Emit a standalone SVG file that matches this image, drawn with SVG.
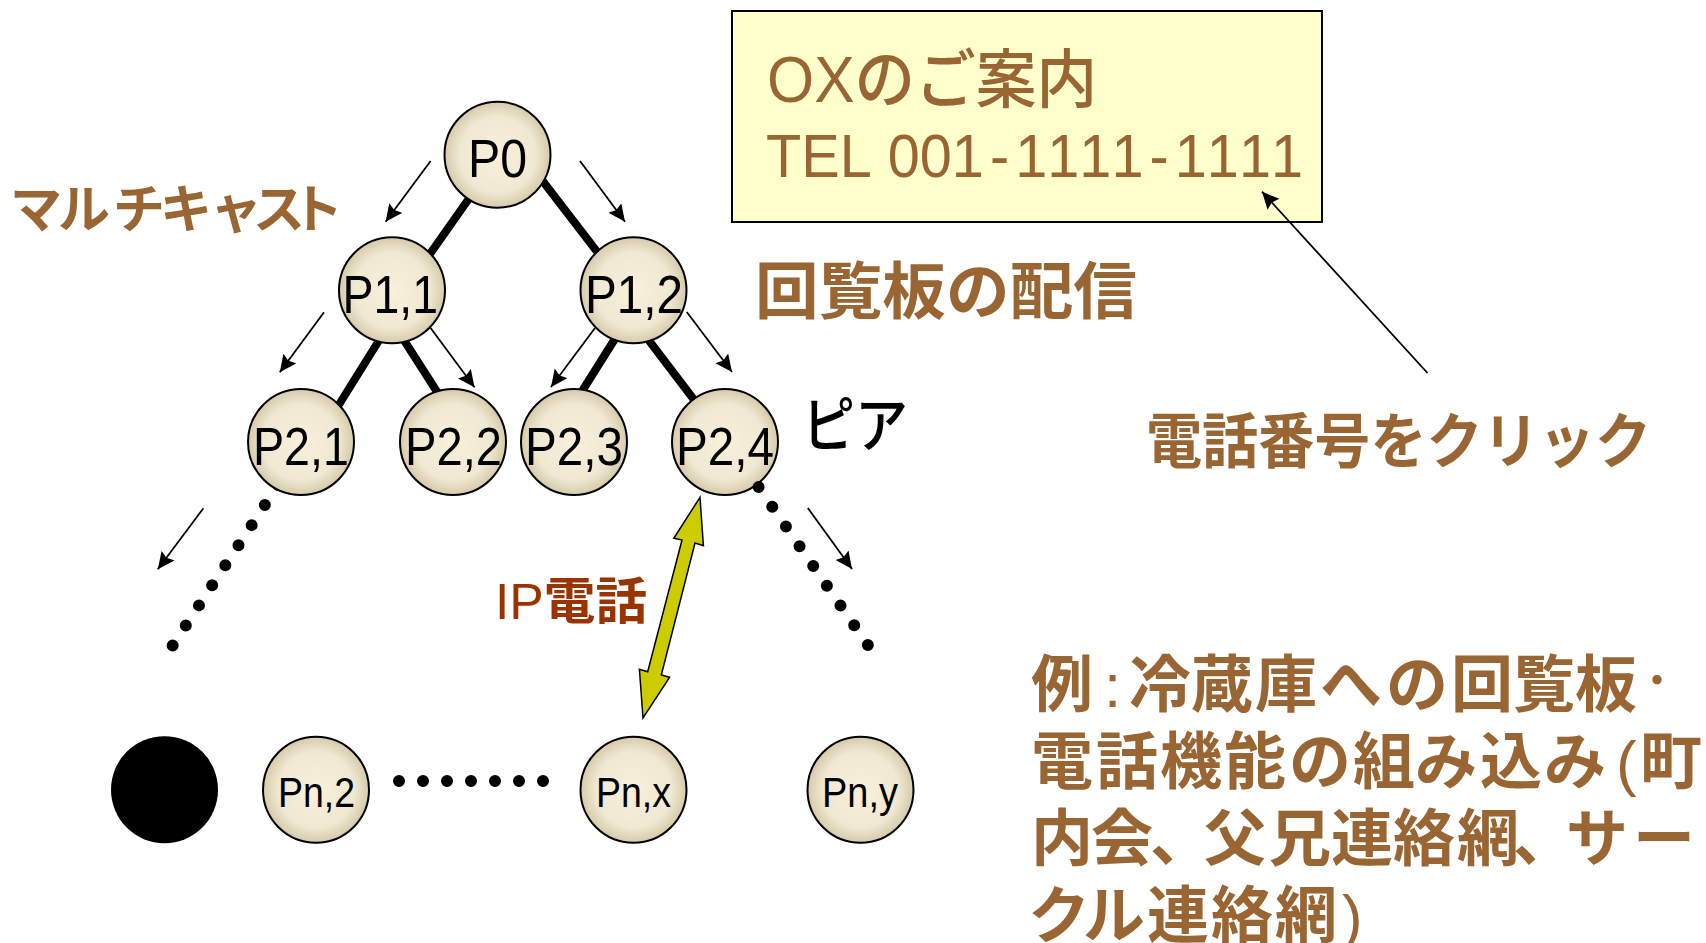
<svg xmlns="http://www.w3.org/2000/svg" width="1706" height="943" viewBox="0 0 1706 943">
<style>
text{font-family:"Liberation Sans","Noto Sans CJK JP",sans-serif}
.cj{font-family:"Noto Sans CJK JP","Liberation Sans",sans-serif;font-weight:700}
.la{font-family:"Liberation Sans",sans-serif;font-weight:400}
.b{fill:#996633}
.n{fill:url(#g);stroke:#000;stroke-width:2}
.l{font-size:54px;fill:#000}
.s{font-size:42px;fill:#000}
.t{stroke:#000;stroke-width:8;fill:none}
.a{stroke:#000;stroke-width:1.8;fill:none;marker-end:url(#m)}
.d{stroke:#000;stroke-width:12;stroke-linecap:round;stroke-dasharray:0 24;fill:none}
</style>
<defs>
<radialGradient id="g" cx="50%" cy="50%" r="50%"><stop offset="0" stop-color="#faf0dc"/><stop offset=".72" stop-color="#efe8d2"/><stop offset="1" stop-color="#d6caaa"/></radialGradient>
<marker id="m" markerUnits="userSpaceOnUse" markerWidth="20" markerHeight="18" refX="17" refY="8" orient="auto"><path d="M0,0L17,8L0,16L2.500,8Z" fill="#000"/></marker>
</defs>
<g id="connectors">
<path class="t" d="M475,190L425,261M535,171L605,262M383,334L335,411M400,334L441,398M618,334L579,396M644,334L698,405"/>
<path class="d" d="M278,485L171,648"/>
<path class="d" d="M399,781H545"/>
<path class="a" d="M430.600,161L385.600,221.700"/>
<path class="a" d="M580,161L625,221.700"/>
<path class="a" d="M324,312.300L279.800,372.300"/>
<path class="a" d="M430.600,328L474.500,387.300"/>
<path class="a" d="M595,328L551,387"/>
<path class="a" d="M686.800,312L732,372"/>
<path class="a" d="M203.400,508.300L157.800,569.300"/>
<path class="a" d="M807.800,508L852,569"/>
</g>
<g id="P0"><ellipse class="n" cx="497.500" cy="154.700" rx="53" ry="53"/><text class="l" x="468" y="177" textLength="59" lengthAdjust="spacingAndGlyphs">P0</text></g>
<g id="P1-1"><ellipse class="n" cx="392" cy="290.300" rx="53" ry="53"/><text class="l" x="342.500" y="312.500" textLength="95.500" lengthAdjust="spacingAndGlyphs">P1,1</text></g>
<g id="P1-2"><ellipse class="n" cx="633.500" cy="290.300" rx="53" ry="53"/><text class="l" x="585" y="312.500" textLength="98" lengthAdjust="spacingAndGlyphs">P1,2</text></g>
<g id="P2-1"><ellipse class="n" cx="301" cy="442" rx="53" ry="53"/><text class="l" x="253" y="464.500" textLength="96" lengthAdjust="spacingAndGlyphs">P2,1</text></g>
<g id="P2-2"><ellipse class="n" cx="453" cy="442" rx="53" ry="53"/><text class="l" x="405" y="464.500" textLength="97" lengthAdjust="spacingAndGlyphs">P2,2</text></g>
<g id="P2-3"><ellipse class="n" cx="574" cy="442" rx="53" ry="53"/><text class="l" x="525" y="464.500" textLength="98" lengthAdjust="spacingAndGlyphs">P2,3</text></g>
<g id="P2-4"><ellipse class="n" cx="725" cy="442" rx="53" ry="53"/><text class="l" x="676" y="464.500" textLength="98" lengthAdjust="spacingAndGlyphs">P2,4</text></g>
<path class="d" d="M758.600,487L870,648"/>
<g id="Pn-1"><ellipse cx="164.500" cy="789.700" rx="53.500" ry="53.500" fill="#000"/></g>
<g id="Pn-2"><ellipse class="n" cx="316" cy="789.700" rx="53" ry="53"/><text class="s" x="278" y="807" textLength="77" lengthAdjust="spacingAndGlyphs">Pn,2</text></g>
<g id="Pn-x"><ellipse class="n" cx="633.500" cy="789.700" rx="53" ry="53"/><text class="s" x="596" y="807" textLength="75" lengthAdjust="spacingAndGlyphs">Pn,x</text></g>
<g id="Pn-y"><ellipse class="n" cx="860.500" cy="789.700" rx="53" ry="53"/><text class="s" x="822" y="807" textLength="76" lengthAdjust="spacingAndGlyphs">Pn,y</text></g>
<polygon id="ip-link" points="700,497.300 703.400,545.700 695,543 661.300,675 669.600,677.300 643,718 639.400,669.300 647.700,671.700 682,540 673.800,538.300" fill="#cccc00" stroke="#000" stroke-width="1.5"/>
<g id="box">
<rect x="732" y="11" width="590" height="211" fill="#ffffcc" stroke="#000" stroke-width="2"/>
<text class="b" font-size="64" x="767" y="102" textLength="330" lengthAdjust="spacingAndGlyphs">OX<tspan font-weight="500" style="font-family:'Noto Sans CJK JP',sans-serif">のご案内</tspan></text>
<text class="b" font-size="62" style="font-kerning:none" transform="translate(766,177) scale(.93,1)" x="0" y="0">TEL 001<tspan dx="6.500">-</tspan><tspan dx="6.500">1111</tspan><tspan dx="6.500">-</tspan><tspan dx="6.500">1111</tspan></text>
</g>
<path class="a" d="M1427.500,373L1262,191.700"/>
<text class="b cj" font-size="52" y="228" x="10 58 113 160 210 253 291">マルチキャスト</text>
<text class="b cj" font-size="62" x="755" y="314" textLength="382" lengthAdjust="spacingAndGlyphs">回覧板の配信</text>
<text class="cj" font-size="60" fill="#000" x="802" y="447" textLength="106" lengthAdjust="spacingAndGlyphs" style="font-weight:500">ピア</text>
<text class="b cj" font-size="60" x="1146" y="463" textLength="505" lengthAdjust="spacingAndGlyphs">電話番号をクリック</text>
<text font-size="50" fill="#993300" x="495" y="619" textLength="152" lengthAdjust="spacingAndGlyphs">IP<tspan font-weight="700" style="font-family:'Noto Sans CJK JP',sans-serif">電話</tspan></text>
<g id="note" font-size="62">
<text class="b cj" y="707" x="1031"><tspan>例</tspan><tspan class="la" x="1104">:</tspan><tspan x="1129 1191 1255 1320 1386 1451 1513 1575">冷蔵庫への回覧板</tspan><tspan font-size="40" style="font-weight:500" x="1637" y="695">・</tspan></text>
<text class="b cj" y="784" x="1031 1096 1160 1224 1289 1353 1415 1480 1544">電話機能の組み込み<tspan class="la" x="1616">(</tspan><tspan x="1640">町</tspan></text>
<text class="b cj" y="861" x="1031 1091 1150 1204 1269 1331 1393 1457 1513 1566 1633">内会、父兄連絡網、サー</text>
<text class="b cj" y="938" x="1028 1083 1147 1211 1275">クル連絡網<tspan class="la" x="1342">)</tspan></text>
</g>
</svg>
